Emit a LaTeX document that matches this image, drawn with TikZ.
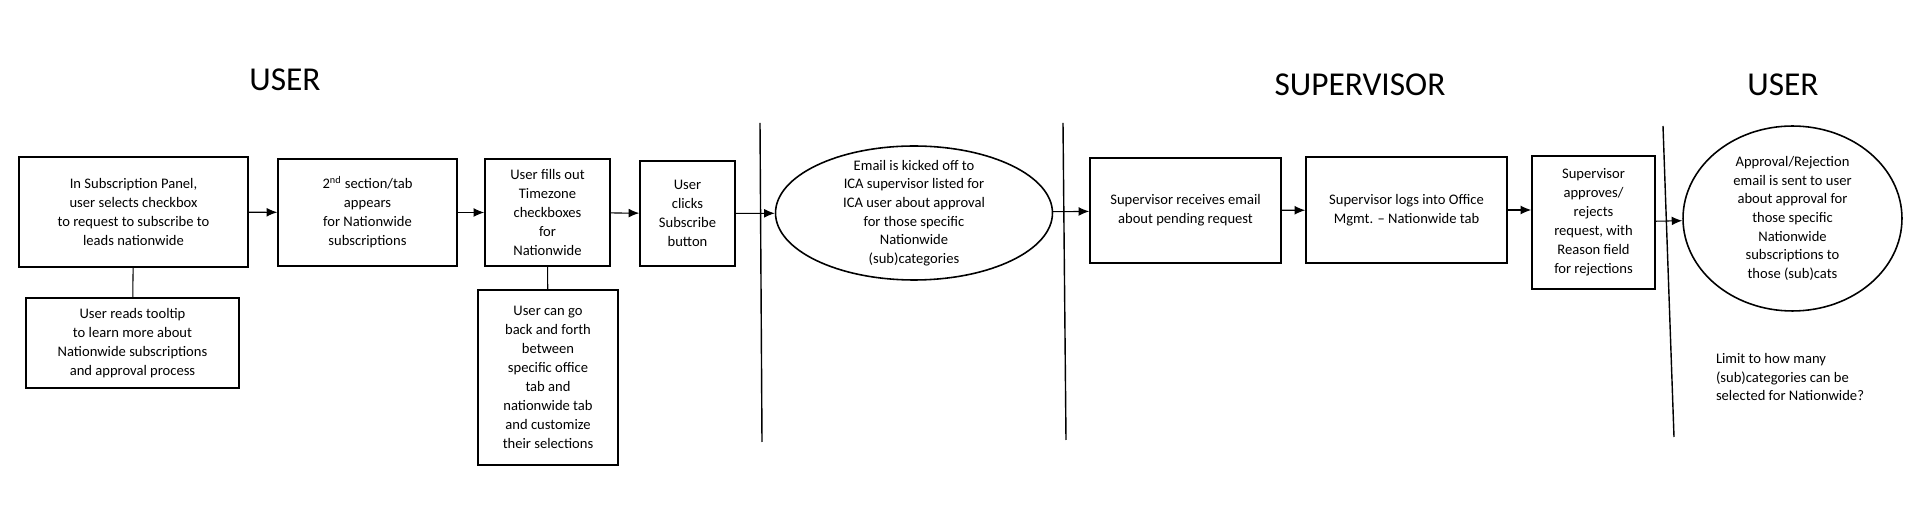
\documentclass[tikz,border=0pt]{standalone}
\usepackage{fontspec}
\setmainfont{Carlito}
\usetikzlibrary{shapes.geometric,arrows.meta,positioning}
\tikzstyle{arrow} = [line width=0.6pt,-{Latex[length=6pt,width=5pt]}]
\tikzstyle{box} = [draw, line width=0.9pt, align=center, inner sep=2pt, font=\fontsize{8.3}{10.8}\selectfont]
\tikzstyle{oval} = [draw, line width=0.9pt, ellipse, inner sep=0pt]
\tikzstyle{ovaltext} = [align=center, font=\fontsize{8.3}{10.6}\selectfont]
\tikzstyle{lane} = [line width=0.8pt]
\tikzstyle{link} = [line width=0.6pt]
\tikzstyle{title} = [font=\fontsize{19}{23}\selectfont]

\begin{document}
\begin{tikzpicture}[x=0.02cm,y=-0.02cm]
\useasboundingbox (0,0) rectangle (1928,526);

% lane titles
\node[title] (userL) at (285,80) {USER};
\node[title] (super) at (1360,85) {SUPERVISOR};
\node[title] (userR) at (1783,85) {USER};

% lane separators
\coordinate (l1top) at (760,123);  \coordinate (l1bot) at (762,442);
\coordinate (l2top) at (1063,123); \coordinate (l2bot) at (1066,440);
\coordinate (l3top) at (1663,126); \coordinate (l3bot) at (1674,437);
\draw [lane] (l1top) -- (l1bot);
\draw [lane] (l2top) -- (l2bot);
\draw [lane] (l3top) -- (l3bot);

% user steps
\node[box, minimum width=4.58cm, minimum height=2.2cm] (panel) at (133.5,212) {In Subscription Panel,\\ user selects checkbox\\ to request to subscribe to\\ leads nationwide};
\node[box, minimum width=4.26cm, minimum height=1.8cm] (tooltip) at (132.5,343) {User reads tooltip\\ to learn more about\\ Nationwide subscriptions\\ and approval process};
\node[box, minimum width=3.58cm, minimum height=2.14cm] (tab) at (367.5,212.5) {2\textsuperscript{nd} section/tab\\ appears\\ for Nationwide\\ subscriptions};
\node[box, minimum width=2.5cm, minimum height=2.14cm] (fill) at (547.5,212.5) {User fills out\\ Timezone\\ checkboxes\\ for\\ Nationwide};
\node[box, minimum width=2.8cm, minimum height=3.5cm] (toggle) at (548,377.5) {User can go\\ back and forth\\ between\\ specific office\\ tab and\\ nationwide tab\\ and customize\\ their selections};
\node[box, minimum width=1.9cm, minimum height=2.1cm] (click) at (687.5,213.5) {User\\ clicks\\ Subscribe\\ button};

% email to supervisor
\node[oval, minimum width=5.54cm, minimum height=2.68cm] (mail) at (914,213) {};
\node[ovaltext] (mailtext) at (mail) {Email is kicked off to\\ ICA supervisor listed for\\ ICA user about approval\\ for those specific\\ Nationwide\\ (sub)categories};

% supervisor steps
\node[box, minimum width=3.82cm, minimum height=2.1cm] (receive) at (1185.5,210.5) {Supervisor receives email\\ about pending request};
\node[box, minimum width=4.02cm, minimum height=2.12cm] (login) at (1406.5,210) {Supervisor logs into Office\\ Mgmt. -- Nationwide tab};
\node[box, minimum width=2.46cm, minimum height=2.66cm] (decide) at (1593.5,222.5) {Supervisor\\ approves/\\ rejects\\ request, with\\ Reason field\\ for rejections};

% answer to user
\node[oval, minimum width=4.38cm, minimum height=3.7cm] (reply) at (1792.5,218.5) {};
\node[ovaltext] (replytext) at (reply) {Approval/Rejection\\ email is sent to user\\ about approval for\\ those specific\\ Nationwide\\ subscriptions to\\ those (sub)cats};
\node[align=left, font=\fontsize{8.3}{10.8}\selectfont] (limit) at (1790,377) {Limit to how many\\ (sub)categories can be\\ selected for Nationwide?};

\draw [link] (panel) -- (tooltip);
\draw [link] (fill) -- (toggle);
\draw [arrow] (panel) -- (tab);
\draw [arrow] (tab) -- (fill);
\draw [arrow] (fill) -- (click);
\draw [arrow] (click) -- (mail);
\draw [arrow] (mail) -- (receive);
\draw [arrow] (receive) -- (login);
\draw [arrow] (login.east) -- (login.east -| decide.west);
\draw [arrow] (decide) -- (reply);
\end{tikzpicture}
\end{document}
